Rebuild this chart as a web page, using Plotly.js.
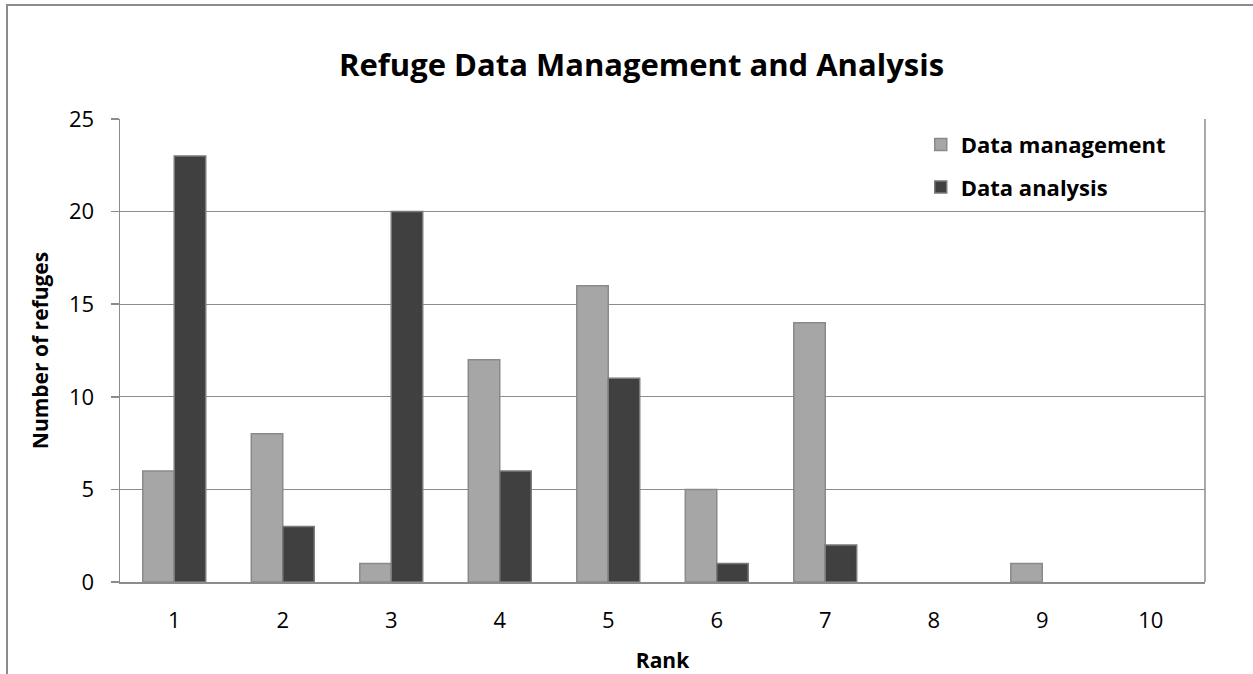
<!DOCTYPE html>
<html><head><meta charset="utf-8">
<script src="https://cdn.plot.ly/plotly-3.0.1.min.js"></script>
<style>
html,body{margin:0;padding:0;background:#fff;}
#frame{position:absolute;left:6px;top:4px;width:1300px;height:700px;border-left:2px solid #8c8c8c;border-top:2px solid #8c8c8c;pointer-events:none;z-index:10;}
#chart{width:1253px;height:674px;}
</style></head>
<body>
<div id="frame"></div>
<div id="chart"></div>
<script>
const ranks = ['1','2','3','4','5','6','7','8','9','10'];
const dataManagement = [6, 8, 1, 12, 16, 5, 14, 0, 1, 0];
const dataAnalysis = [23, 3, 20, 6, 11, 1, 2, 0, 0, 0];
const yTicks = [0, 5, 10, 15, 20, 25];

const FONT = '"Open Sans", sans-serif';
const edge = vals => vals.map(v => v > 0 ? 1.5 : 0);
const traces = [
  {type:'bar', name:'Data management', legendgroup:'dm', x:ranks, y:dataManagement,
   marker:{color:'#a6a6a6', line:{color:'#8a8a8a', width:edge(dataManagement)}}},
  {type:'bar', name:'Data analysis', legendgroup:'da', x:ranks, y:dataAnalysis,
   marker:{color:'#404040', line:{color:'#7a7a7a', width:edge(dataAnalysis)}}}
];
const layout = {
  width:1253, height:674,
  margin:{l:120, r:48, t:119, b:92},
  paper_bgcolor:'#fff', plot_bgcolor:'#fff',
  font:{family:FONT, color:'#000', size:22},
  title:{text:'Refuge Data Management and Analysis', font:{family:FONT, size:31, weight:'bold', color:'#000'},
         x:0.512, xanchor:'center', y:0.903, yanchor:'middle'},
  barmode:'group', bargap:0.42, bargroupgap:0,
  showlegend:true,
  legend:{x:0.738, y:0.99, xanchor:'left', yanchor:'top', bgcolor:'rgba(0,0,0,0)',
          font:{family:FONT, size:22, weight:'bold', color:'#000'}, tracegroupgap:11, itemwidth:30},
  xaxis:{type:'category', showline:true, linecolor:'#8c8c8c', linewidth:1.5, ticks:'', showgrid:false,
         tickfont:{size:22}, ticklabelstandoff:18,
         title:{text:'Rank', font:{family:FONT, size:21, weight:'bold'}, standoff:24},
         mirror:false},
  yaxis:{range:[0,25], tickvals:yTicks, showline:true, linecolor:'#8c8c8c', linewidth:1.5,
         ticks:'outside', ticklen:8, tickcolor:'#8c8c8c', tickwidth:1.5, ticklabelstandoff:12,
         gridcolor:'#8c8c8c', gridwidth:1, zeroline:false, tickfont:{size:22},
         title:{text:'Number of refuges', font:{family:FONT, size:21, weight:'bold'}, standoff:14}},
  shapes:[
    {type:'line', xref:'paper', yref:'paper', x0:1, x1:1, y0:0, y1:1, line:{color:'#8c8c8c', width:1.5}}
  ]
};
Plotly.newPlot('chart', traces, layout, {displayModeBar:false, staticPlot:true});
</script>
</body></html>
